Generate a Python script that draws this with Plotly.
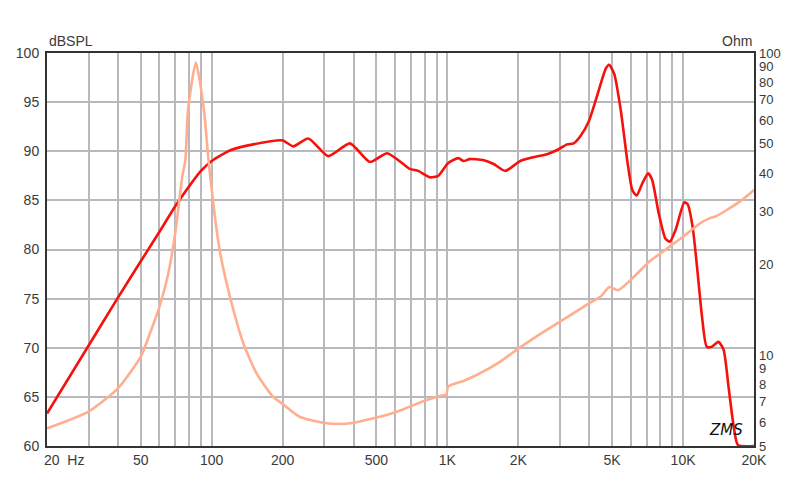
import math
import plotly.graph_objects as go

# SPL response (dB SPL) vs frequency (Hz)
spl_freq = [20, 30, 40, 50, 60, 70, 80, 90, 100, 120, 150, 200, 222, 257, 312, 386, 469,
            556, 693, 752, 843, 915, 1008, 1112, 1170, 1242, 1417, 1571, 1761, 2035, 2322,
            2648, 2966, 3220, 3432, 3660, 3975, 4300, 4700, 4855, 5100, 5440, 5795, 6090,
            6350, 6710, 7110, 7390, 7880, 8420, 8790, 9300, 10120, 10460, 10980, 11460,
            12030, 12600, 13240, 14130, 14860, 15600, 16400, 17100, 20000]
spl_db = [63.3, 70.2, 75.1, 78.8, 81.8, 84.4, 86.4, 88.0, 89.0, 90.1, 90.7, 91.1, 90.5,
          91.3, 89.5, 90.8, 88.9, 89.8, 88.2, 88.0, 87.35, 87.5, 88.8, 89.3, 89.0, 89.2,
          89.1, 88.7, 88.0, 89.0, 89.4, 89.7, 90.2, 90.7, 90.8, 91.5, 93.0, 95.5, 98.4,
          98.8, 97.9, 94.2, 89.1, 86.05, 85.5, 86.7, 87.75, 87.1, 83.7, 81.1, 80.8, 82.0,
          84.8, 84.6, 82.3, 78.25, 73.2, 70.1, 70.1, 70.6, 69.8, 66.0, 62.0, 60.1, 60.0]

# Impedance (Ohm) vs frequency (Hz)
imp_freq = [20, 30, 40, 50, 55, 60, 65, 70, 75, 77.3, 79.3, 85.7, 92.7, 96.9, 108, 119.5,
            136.4, 155, 182, 200, 236, 297, 350, 400, 500, 610, 692, 800, 900, 990, 1008,
            1170, 1330, 1672, 2000, 2500, 3000, 3500, 4000, 4500, 4870, 5300, 6200, 7200,
            8600, 10100, 11800, 13000, 13800, 17400, 20000]
imp_ohm = [5.72, 6.5, 7.76, 9.88, 11.95, 14.45, 18.2, 25.3, 39, 44.2, 64.7, 92.9, 64.7,
           44.2, 22.3, 15.6, 10.9, 8.7, 7.28, 6.89, 6.25, 5.97, 5.91, 5.97, 6.21, 6.49,
           6.75, 7.06, 7.28, 7.43, 7.87, 8.21, 8.59, 9.5, 10.5, 11.8, 12.9, 13.9, 14.85,
           15.7, 16.8, 16.4, 18.2, 20.4, 22.6, 24.8, 27.3, 28.4, 28.8, 32.2, 35.2]

# Axis ticks
x_grid = [m * 10 ** e for e in (1, 2, 3) for m in range(1, 10)] + [10000, 20000]
x_grid = sorted(set(v for v in x_grid if 20 <= v <= 20000))
x_labels = {20: "", 50: "50", 100: "100", 200: "200", 500: "500", 1000: "1K",
            2000: "2K", 5000: "5K", 10000: "10K", 20000: "20K"}
y_ticks = [60, 65, 70, 75, 80, 85, 90, 95, 100]
ohm_ticks = [5, 6, 7, 8, 9, 10, 20, 30, 40, 50, 60, 70, 80, 90, 100]

font_family = "Liberation Sans, Arial, sans-serif"
text_color = "#3a3a3a"

fig = go.Figure()
fig.add_trace(go.Scatter(x=imp_freq, y=imp_ohm, yaxis="y2", mode="lines",
                         line=dict(color="#ffae8f", width=2.6, shape="spline", smoothing=0.6),
                         hoverinfo="skip", showlegend=False))
fig.add_trace(go.Scatter(x=spl_freq, y=spl_db, mode="lines",
                         line=dict(color="#f5120c", width=2.6, shape="spline", smoothing=0.6),
                         hoverinfo="skip", showlegend=False))

fig.update_layout(
    width=800, height=484,
    margin=dict(l=47, r=46, t=53, b=38),
    paper_bgcolor="white", plot_bgcolor="white",
    font=dict(family=font_family, size=14, color=text_color),
    xaxis=dict(type="log", range=[math.log10(20), math.log10(20000)],
               tickmode="array", tickvals=x_grid,
               ticktext=[x_labels.get(v, "") for v in x_grid],
               showgrid=True, gridcolor="#b9b9bd", gridwidth=1.5,
               showline=True, linecolor="#333333", linewidth=2, mirror=True,
               ticks="", zeroline=False, fixedrange=True,
               tickfont=dict(size=14, color=text_color)),
    yaxis=dict(range=[60, 100], tickmode="array", tickvals=y_ticks,
               showgrid=True, gridcolor="#b9b9bd", gridwidth=1.5,
               showline=True, linecolor="#333333", linewidth=2, mirror=True,
               ticks="", zeroline=False, ticklabelstandoff=3,
               tickfont=dict(size=14, color=text_color)),
    yaxis2=dict(type="log", range=[math.log10(5), 2], overlaying="y", side="right",
                tickmode="array", tickvals=ohm_ticks,
                ticktext=[str(v) for v in ohm_ticks],
                showgrid=False, showline=False, ticks="", zeroline=False,
                ticklabelstandoff=4,
                tickfont=dict(size=13, color=text_color)),
    annotations=[
        dict(text="dBSPL", xref="paper", yref="paper", x=0.0, y=1.0, xanchor="left",
             yanchor="bottom", showarrow=False, yshift=2,
             font=dict(size=14, color=text_color)),
        dict(text="Ohm", xref="paper", yref="paper", x=1.0, y=1.0, xanchor="right",
             yanchor="bottom", showarrow=False, yshift=2,
             font=dict(size=14, color=text_color)),
        dict(text="20  Hz", xref="paper", yref="paper", x=-0.007, y=0, xanchor="left",
             yanchor="top", showarrow=False, yshift=-4,
             font=dict(size=14, color=text_color)),
        dict(text="<i>ZMS</i>", xref="paper", yref="paper", x=0.987, y=0.012,
             xanchor="right", yanchor="bottom", showarrow=False,
             font=dict(size=15, color="#111111", family="DejaVu Sans")),
    ],
)

fig.write_html("out.html")
